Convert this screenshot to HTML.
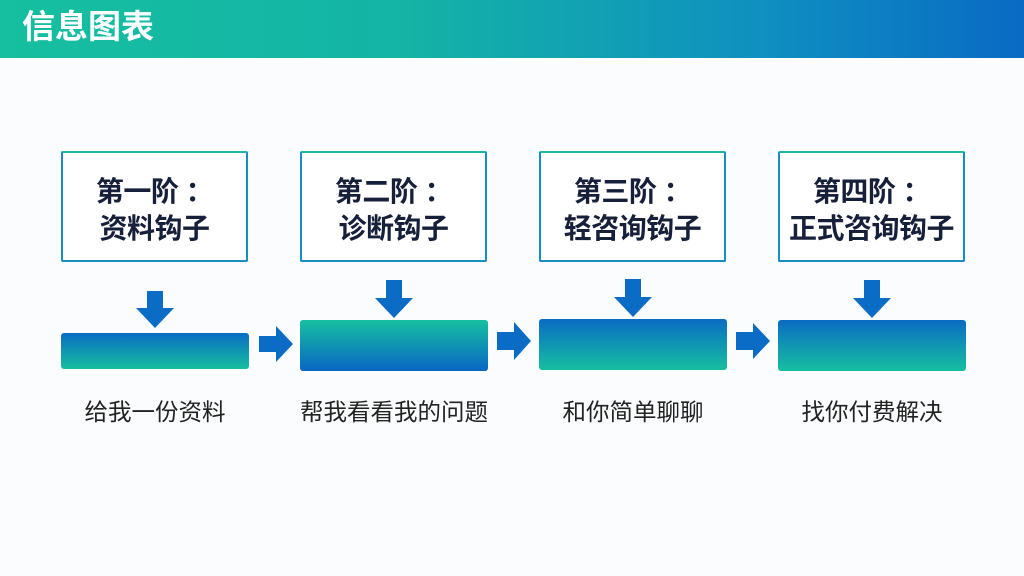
<!DOCTYPE html>
<html><head><meta charset="utf-8"><style>
body{margin:0;width:1024px;height:576px;background:#fbfcfd;position:relative;overflow:hidden;font-family:"Liberation Sans","Noto Sans CJK SC",sans-serif}
.hd{position:absolute;left:0;top:0;width:1024px;height:58px;background:linear-gradient(90deg,#16bfa0 0%,#14b3a6 40%,#0f8fc0 75%,#0a6ac4 100%)}
.hd span{position:absolute;left:22px;top:7px;color:#fff;font-size:33px;font-weight:bold;line-height:40px}
.box{position:absolute;top:151px;width:183px;border:2.5px solid #1a8cc4;border-top-color:#1bb8b0;border-radius:2px;background:#fff;text-align:center;color:#17203a;font-weight:bold;font-size:28px;line-height:37px;padding-top:20px;box-sizing:content-box;height:87px;letter-spacing:-0.5px}
.bar{position:absolute;width:188px;border-radius:3px}
.lb{position:absolute;top:395px;width:188px;text-align:center;font-size:23.5px;color:#222;line-height:34px}
</style></head><body>
<div class="hd"><span>信息图表</span></div>

<div class="box" style="left:61px">第一阶 ：<br>资料钩子</div>
<div class="box" style="left:300px">第二阶 ：<br>诊断钩子</div>
<div class="box" style="left:539px">第三阶 ：<br>轻咨询钩子</div>
<div class="box" style="left:778px">第四阶 ：<br>正式咨询钩子</div>

<div class="bar" style="left:61px;top:333px;height:36px;background:linear-gradient(180deg,#0a6cc4,#16bfa0)"></div>
<div class="bar" style="left:300px;top:320px;height:51px;background:linear-gradient(180deg,#16c0a0,#0a66c4)"></div>
<div class="bar" style="left:539px;top:319px;height:51px;background:linear-gradient(180deg,#0a6cc4,#16bfa0)"></div>
<div class="bar" style="left:778px;top:320px;height:51px;background:linear-gradient(180deg,#0a6cc4,#16bfa0)"></div>

<svg width="1024" height="576" style="position:absolute;left:0;top:0">
<g fill="#0a6cc4">
<polygon points="147,291 163,291 163,308 174,308 155,328 136,308 147,308"/>
<polygon points="386,280 402,280 402,298 413,298 394,318 375,298 386,298"/>
<polygon points="625,279 641,279 641,297 652,297 633,317 614,297 625,297"/>
<polygon points="864,280 880,280 880,298 891,298 872,318 853,298 864,298"/>
<polygon points="259,336 276,336 276,326 293,344 276,362 276,352 259,352"/>
<polygon points="497,332 514,332 514,322 531,341 514,360 514,350 497,350"/>
<polygon points="736,332 753,332 753,323 770,341 753,359 753,350 736,350"/>
</g></svg>

<div class="lb" style="left:61px">给我一份资料</div>
<div class="lb" style="left:300px">帮我看看我的问题</div>
<div class="lb" style="left:539px">和你简单聊聊</div>
<div class="lb" style="left:778px">找你付费解决</div>
</body></html>
